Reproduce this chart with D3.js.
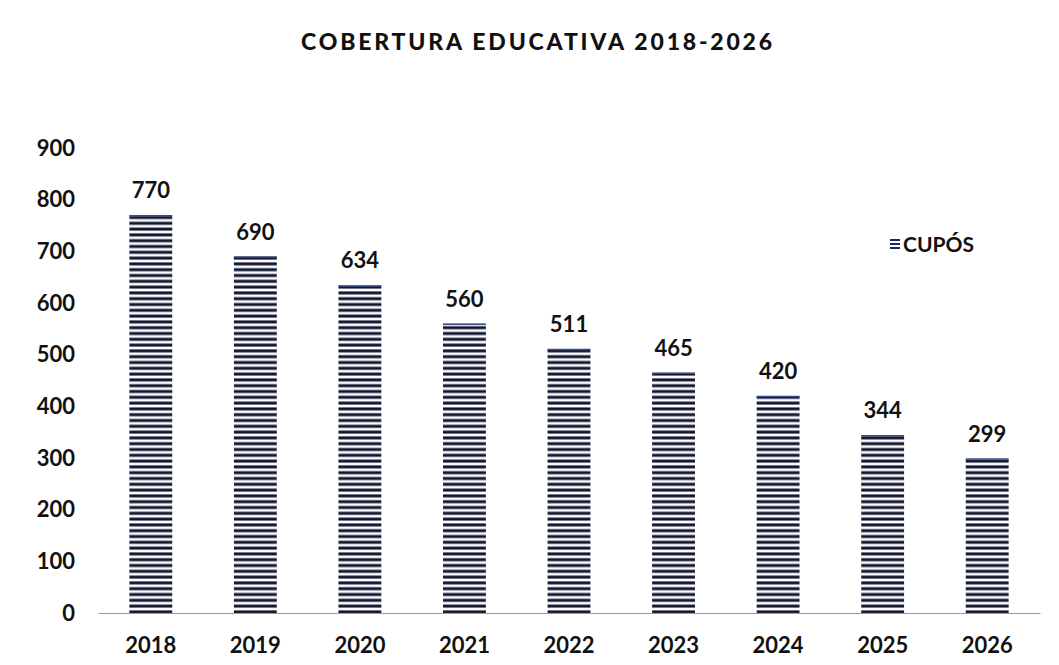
<!DOCTYPE html>
<html>
<head>
<meta charset="utf-8">
<script src="https://cdn.jsdelivr.net/npm/d3@7"></script>
<style>
  body { margin: 0; background: #ffffff; }
  text { font-family: Lato, "Open Sans", sans-serif; fill: #111; }
</style>
</head>
<body>
<script>
// categories and values
var years = ["2018","2019","2020","2021","2022","2023","2024","2025","2026"];
var cupos = [770, 690, 634, 560, 511, 465, 420, 344, 299];
var yTicks = [0, 100, 200, 300, 400, 500, 600, 700, 800, 900];

var width = 1059, height = 665;
var margin = {left: 98, right: 19, top: 148, bottom: 52};

var svg = d3.select("body").append("svg")
    .attr("width", width).attr("height", height);

// striped fill for the bars
var pat = svg.append("defs").append("pattern")
    .attr("id", "stripes")
    .attr("patternUnits", "userSpaceOnUse")
    .attr("width", 8).attr("height", 5.8);
pat.append("rect").attr("width", 8).attr("height", 5.8).attr("fill", "#fbfbfd");
pat.append("rect").attr("y", 1.4).attr("width", 8).attr("height", 3).attr("fill", "#11162f");

var x = d3.scaleBand()
    .domain(years)
    .range([margin.left, width - margin.right])
    .paddingInner(0.59)
    .paddingOuter(0.3);

var y = d3.scaleLinear()
    .domain([0, 900])
    .range([height - margin.bottom, margin.top]);

// title
svg.append("text")
    .attr("x", 538).attr("y", 50)
    .attr("text-anchor", "middle")
    .attr("font-size", 23).attr("font-weight", "900")
    .attr("letter-spacing", 2.8)
    .text("COBERTURA EDUCATIVA 2018-2026");

// y axis (labels only)
var yAxis = d3.axisLeft(y).tickValues(yTicks).tickSize(0).tickPadding(0);
var gy = svg.append("g")
    .attr("transform", "translate(" + 75 + ",0)")
    .call(yAxis);
gy.select(".domain").remove();
gy.selectAll("text")
    .attr("font-size", 22).attr("font-weight", "bold")
    .style("font-family", "Lato, 'Open Sans', sans-serif")
    .attr("fill", "#111");

// bars
svg.append("g").selectAll("rect")
    .data(cupos)
    .join("rect")
    .attr("x", function(d, i){ return x(years[i]); })
    .attr("y", function(d){ return y(d); })
    .attr("width", x.bandwidth())
    .attr("height", function(d){ return y(0) - y(d); })
    .attr("fill", "url(#stripes)");

// thin top edge on each bar
svg.append("g").selectAll("line")
    .data(cupos)
    .join("line")
    .attr("x1", function(d, i){ return x(years[i]); })
    .attr("x2", function(d, i){ return x(years[i]) + x.bandwidth(); })
    .attr("y1", function(d){ return y(d) + 0.5; })
    .attr("y2", function(d){ return y(d) + 0.5; })
    .attr("stroke", "#3a4a8c").attr("stroke-width", 1.5);

// value labels
svg.append("g").selectAll("text")
    .data(cupos)
    .join("text")
    .attr("x", function(d, i){ return x(years[i]) + x.bandwidth() / 2; })
    .attr("y", function(d){ return y(d) - 17; })
    .attr("text-anchor", "middle")
    .attr("font-size", 22).attr("font-weight", "bold")
    .text(function(d){ return d; });

// x axis
var xAxis = d3.axisBottom(x).tickSize(0).tickPadding(24);
var gx = svg.append("g")
    .attr("transform", "translate(0," + y(0) + ")")
    .call(xAxis);
gx.select(".domain").attr("stroke", "#9a9a9a").attr("stroke-width", 1.2);
gx.selectAll("text")
    .attr("font-size", 22).attr("font-weight", "bold")
    .style("font-family", "Lato, 'Open Sans', sans-serif")
    .attr("fill", "#111");

// legend
var lg = svg.append("g").attr("transform", "translate(890,244)");
[-4, 0, 4].forEach(function(dy){
  lg.append("rect").attr("x", 0).attr("y", dy - 1).attr("width", 10).attr("height", 2)
    .attr("fill", "#1c2a6a");
});
lg.append("text").attr("x", 13).attr("y", 8)
    .attr("font-size", 21).attr("font-weight", "bold")
    .text("CUPÓS");
</script>
</body>
</html>
